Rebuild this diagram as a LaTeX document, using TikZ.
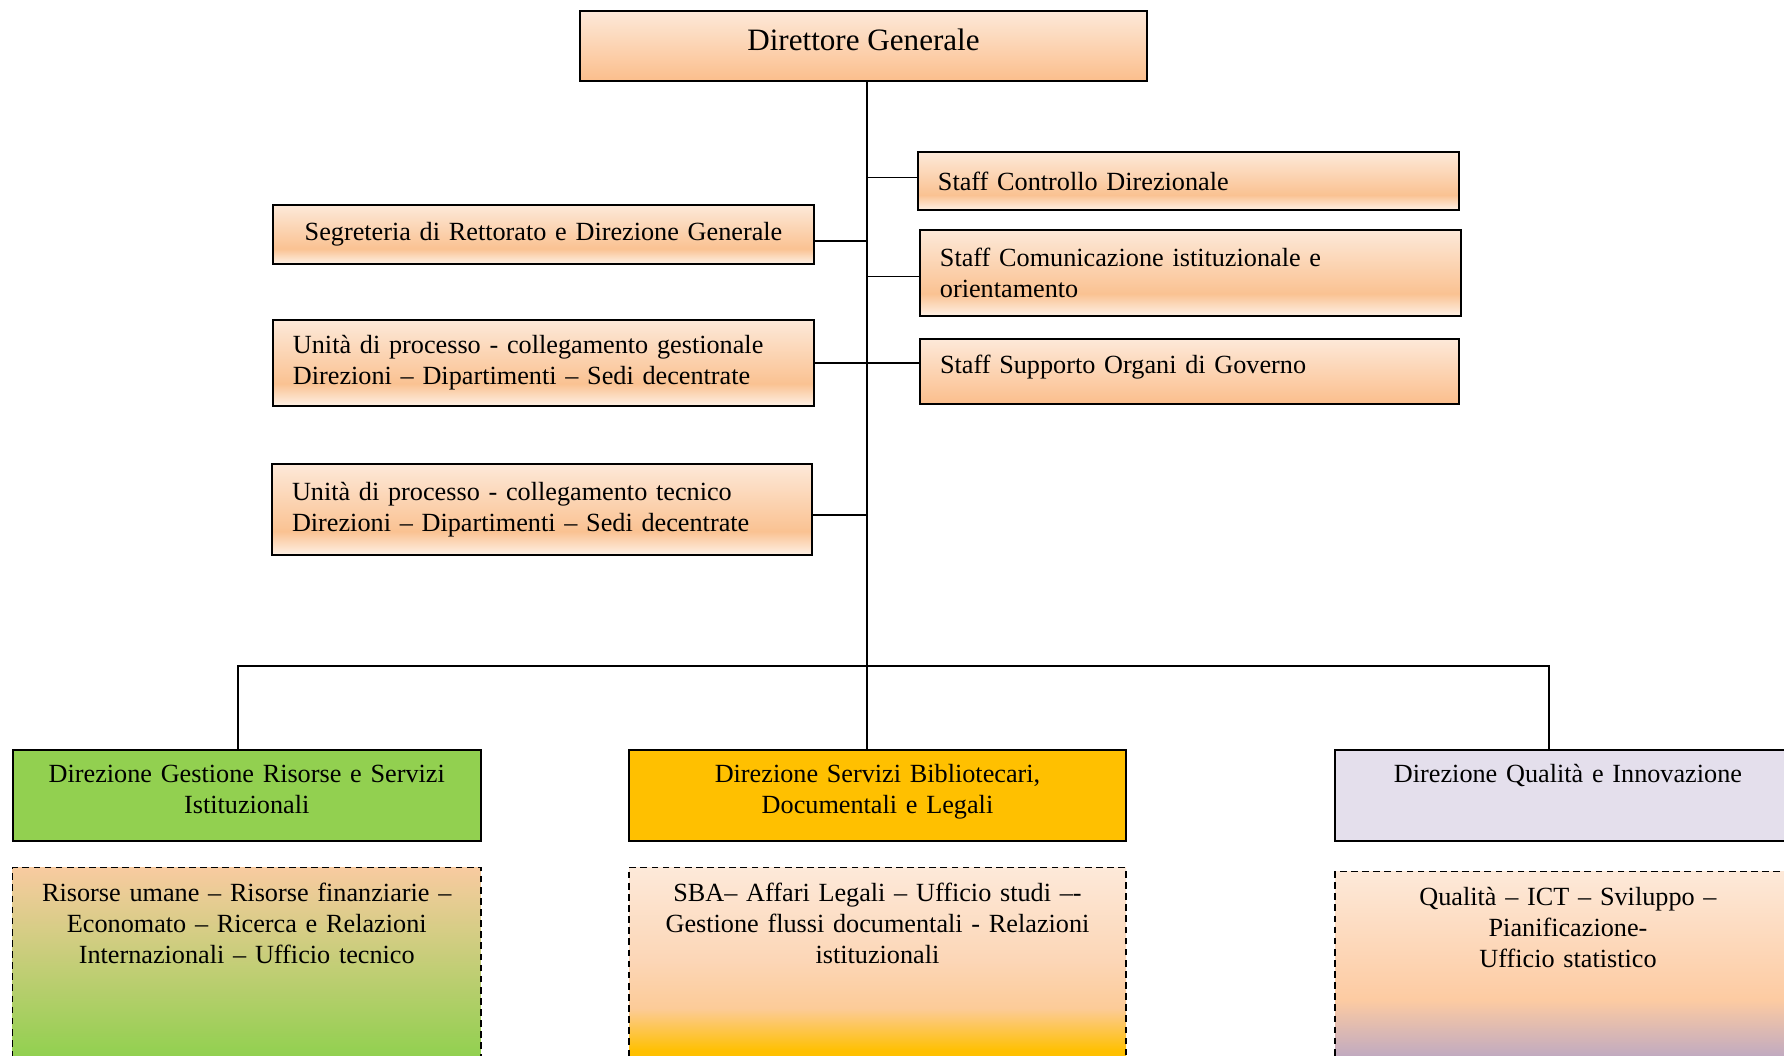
\documentclass[tikz,border=0pt]{standalone}
\usepackage{fontspec}
\setmainfont{Liberation Serif}
\usetikzlibrary{positioning}

\definecolor{pchtop}{HTML}{FDE9D9}
\definecolor{pchdeep}{HTML}{FAC292}
\definecolor{pchpale}{HTML}{FEF1E6}
\definecolor{pchend}{HTML}{FBBE8C}
\definecolor{dirgreen}{HTML}{92D050}
\definecolor{dirgold}{HTML}{FFC000}
\definecolor{dirlilac}{HTML}{E4DFEC}
\definecolor{grpeach}{HTML}{F8CBA0}
\definecolor{orpeach}{HTML}{FCD6B6}
\definecolor{ordeep}{HTML}{FCCB98}
\definecolor{lipeach}{HTML}{FDCBA2}
\definecolor{lipurple}{HTML}{B4A3C6}

\pgfdeclareverticalshading{pchband}{100bp}{color(0bp)=(pchpale); color(25bp)=(pchpale); color(38bp)=(pchdeep); color(75bp)=(pchtop); color(100bp)=(pchtop)}
\pgfdeclareverticalshading{pchdown}{100bp}{color(0bp)=(pchend); color(25bp)=(pchend); color(75bp)=(pchtop); color(100bp)=(pchtop)}
\pgfdeclareverticalshading{greenfade}{100bp}{color(0bp)=(dirgreen); color(31bp)=(dirgreen); color(75bp)=(grpeach); color(100bp)=(grpeach)}
\pgfdeclareverticalshading{goldfade}{100bp}{color(0bp)=(dirgold); color(32bp)=(dirgold); color(42bp)=(ordeep); color(53bp)=(orpeach); color(75bp)=(pchtop); color(100bp)=(pchtop)}
\pgfdeclareverticalshading{lilacfade}{100bp}{color(0bp)=(lipurple); color(29bp)=(lipurple); color(45bp)=(lipeach); color(75bp)=(pchtop); color(100bp)=(pchtop)}

\tikzset{
    link/.style={line width=0.6pt},
    staffbox/.style={draw, line width=0.7pt, shade, shading=pchband, text width=225.5pt, inner xsep=9pt, align=left, font=\fontsize{11.8}{14}\selectfont},
    dirbox/.style={draw, line width=0.9pt, anchor=north, inner xsep=5pt, inner ysep=5.75pt, text height=9pt, text depth=20.5pt, align=center, font=\fontsize{11.8}{14}\selectfont},
    areabox/.style={draw, densely dashed, line width=0.6pt, shade, anchor=north, inner xsep=5pt, inner ysep=6pt, text height=9pt, text depth=74.85pt, align=center, font=\fontsize{11.8}{14}\selectfont}
}

\begin{document}
\begin{tikzpicture}[x=0.45pt, y=-0.45pt]
\clip (0,0) rectangle (1784,1056);
\fill[white] (0,0) rectangle (1784,1056);

% vertice
\node[draw, line width=0.7pt, shade, shading=pchdown, minimum width=255pt, inner ysep=4pt, text height=14pt, text depth=9.5pt, font=\fontsize{14}{16}\selectfont] (dg) at (863.5,46) {Direttore Generale};

% staff a destra
\node[staffbox, minimum height=26.1pt] (scd) at (1188.5,181) {Staff Controllo Direzionale};
\node[staffbox, minimum height=38.7pt] (sci) at (1190.5,273) {Staff Comunicazione istituzionale e\\orientamento};
\node[staffbox, shading=pchdown, text width=224.5pt, inner ysep=4pt, text height=11.3pt, text depth=9.95pt] (sso) at (1189.5,371.5) {Staff Supporto Organi di Governo};

% a sinistra
\node[staffbox, align=center, minimum height=26.5pt] (seg) at (543.5,234.5) {Segreteria di Rettorato e Direzione Generale};
\node[staffbox, minimum height=38.7pt] (ugest) at (543.5,363) {Unità di processo - collegamento gestionale\\Direzioni -- Dipartimenti -- Sedi decentrate};
\node[staffbox, text width=225pt, minimum height=41pt] (utec) at (542,509.5) {Unità di processo - collegamento tecnico\\Direzioni -- Dipartimenti -- Sedi decentrate};

% direzioni
\node[dirbox, fill=dirgreen, text width=200.8pt] (dgr) at (246.75,749) {Direzione Gestione Risorse e Servizi\\Istituzionali};
\node[dirbox, fill=dirgold, text width=213.65pt] (dsb) at (877.5,749) {Direzione Servizi Bibliotecari,\\Documentali e Legali};
\node[dirbox, fill=dirlilac, text width=199.7pt] (dqi) at (1568,749) {Direzione Qualità e Innovazione};

\node[areabox, shading=greenfade, text width=200.8pt] (agr) at (246.75,867) {Risorse umane -- Risorse finanziarie --\\Economato -- Ricerca e Relazioni\\Internazionali -- Ufficio tecnico};
\node[areabox, shading=goldfade, text width=213.65pt] (asb) at (877.5,867) {SBA-- Affari Legali -- Ufficio studi --{-}\\Gestione flussi documentali - Relazioni\\istituzionali};
\node[areabox, shading=lilacfade, text width=199.7pt] (aqi) at (1568,871) {Qualità -- ICT -- Sviluppo --\\Pianificazione-\\Ufficio statistico};

% linee
\coordinate (hub) at (867,666);
\coordinate (busL) at (238,666);
\coordinate (busR) at (1549,666);
\draw[link] (dg.south -| hub) -- (hub);
\draw[link] ([yshift=1.6pt]scd.west) -- ([yshift=1.6pt]scd.west -| hub);
\draw[link] ([yshift=-1.6pt]sci.west) -- ([yshift=-1.6pt]sci.west -| hub);
\draw[link] ([yshift=-2.9pt]seg.east) -- ([yshift=-2.9pt]seg.east -| hub);
\draw[link] (ugest.east) -- (ugest.east -| sso.west);
\draw[link] ([yshift=-2.5pt]utec.east) -- ([yshift=-2.5pt]utec.east -| hub);
\draw[link] (busL |- dgr.north) -- (busL) -- (busR) -- (busR |- dqi.north);
\draw[link] (hub) -- (hub |- dsb.north);
\end{tikzpicture}
\end{document}
